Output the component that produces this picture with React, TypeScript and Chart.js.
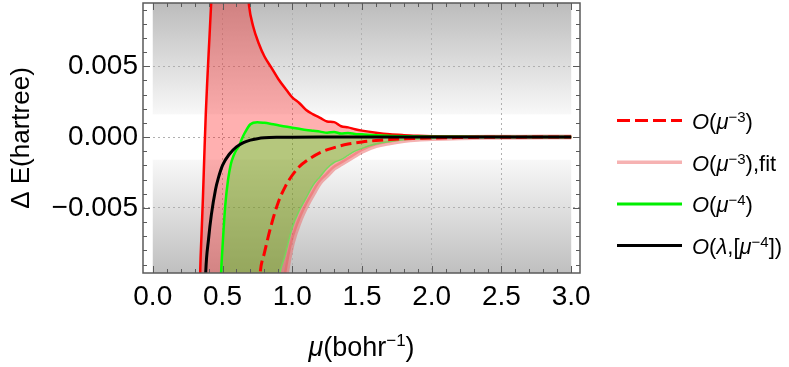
import React, { useEffect, useRef } from "react";
import { Chart, registerables } from "chart.js";

Chart.register(...registerables);

const FONT = '"Liberation Sans", Arial, Helvetica, sans-serif';

// ---- axes ----
const xTicks = [0, 0.5, 1, 1.5, 2, 2.5, 3];
const yTicks = [-0.005, 0, 0.005];
const xLimits = [-0.07, 3.063];
const yLimits = [-0.0096, 0.00946];
const shadeEdge = 0.0016;
const shadeX = [0, 3];

const yTitle = "Δ E(hartree)";
const xTitleSegs: [string, string][] = [["μ", "i"], ["(bohr", "n"], ["−1", "s"], [")", "n"]];
const legendLabels: [string, string][][] = [
  [["O", "i"], ["(", "n"], ["μ", "i"], ["−3", "s"], [")", "n"]],
  [["O", "i"], ["(", "n"], ["μ", "i"], ["−3", "s"], ["),fit", "n"]],
  [["O", "i"], ["(", "n"], ["μ", "i"], ["−4", "s"], [")", "n"]],
  [["O", "i"], ["(", "n"], ["λ", "i"], [",[", "n"], ["μ", "i"], ["−4", "s"], ["])", "n"]],
];

// ---- O(mu^-3) band: upper bound and fit (lower bound) ----
const muRed = [0.33, 0.34, 0.35, 0.36, 0.37, 0.38, 0.39, 0.40, 0.42, 0.44, 0.50, 0.60, 0.66, 0.69, 0.72, 0.76, 0.80, 0.85, 0.90, 0.96, 1.00, 1.05, 1.10, 1.15, 1.20, 1.25, 1.30, 1.35, 1.40, 1.45, 1.50, 1.60, 1.70, 1.80, 1.90, 2.00, 2.20, 2.40, 2.60, 2.80, 3.00];
const redUpper = [-0.016, -0.0096, -0.0068, -0.0042, -0.0012, 0.0016, 0.0038, 0.0058, 0.0097, 0.0145, 0.03, 0.03, 0.013, 0.0093, 0.0078, 0.0066, 0.0057, 0.0049, 0.0041, 0.0033, 0.0028, 0.0024, 0.0019, 0.0016, 0.00135, 0.0011, 0.00105, 0.00076, 0.00068, 0.00055, 0.00045, 0.0003, 0.00019, 0.00013, 0.00009, 0.00006, 0.00003, 0.000015, 0.000008, 0.000004, 0.000002];
const pinkFit = [-0.04, -0.04, -0.04, -0.04, -0.04, -0.04, -0.04, -0.04, -0.04, -0.04, -0.04, -0.04, -0.04, -0.04, -0.04, -0.04, -0.04, -0.02, -0.0135, -0.0095, -0.0075, -0.006, -0.0049, -0.004, -0.0032, -0.0027, -0.0022, -0.0019, -0.0016, -0.0013, -0.001, -0.0006, -0.0004, -0.00025, -0.00016, -0.00011, -0.00005, -0.00002, -0.00001, -0.000004, -0.000002];

// ---- O(mu^-4) band ----
const muGreen = [0.47, 0.49, 0.50, 0.52, 0.54, 0.56, 0.58, 0.60, 0.62, 0.64, 0.66, 0.70, 0.75, 0.80, 0.85, 0.90, 0.95, 1.00, 1.05, 1.10, 1.15, 1.20, 1.25, 1.30, 1.35, 1.40, 1.45, 1.50, 1.60, 1.70, 1.80, 1.90, 2.00, 2.20, 2.40, 2.60, 2.80, 3.00];
const greenUpper = [-0.016, -0.0096, -0.0078, -0.0048, -0.003, -0.0019, -0.0013, -0.0009, -0.0006, -0.0001, 0.0003, 0.0009, 0.00105, 0.001, 0.00092, 0.00083, 0.00074, 0.00066, 0.00058, 0.0005, 0.00044, 0.00038, 0.0003, 0.00036, 0.00024, 0.00028, 0.00022, 0.00019, 0.00012, 0.00008, 0.00005, 0.00003, 0.00002, 0.00001, 0.000005, 0.000002, 0.000001, 0];
const greenLower = [-0.04, -0.04, -0.04, -0.04, -0.04, -0.04, -0.04, -0.04, -0.04, -0.04, -0.04, -0.04, -0.04, -0.04, -0.017, -0.0104, -0.0083, -0.0064, -0.0052, -0.0043, -0.0034, -0.0028, -0.0022, -0.0018, -0.0016, -0.0013, -0.001, -0.0008, -0.0005, -0.00032, -0.0002, -0.00014, -0.0001, -0.00004, -0.00002, -0.00001, -0.000004, -0.000002];

// ---- O(mu^-3) (dashed) ----
const muDashed = [0.74, 0.77, 0.80, 0.85, 0.90, 0.95, 1.00, 1.05, 1.10, 1.20, 1.30, 1.40, 1.50, 1.60, 1.70, 1.80, 1.90, 2.00, 2.20, 2.40, 2.60, 2.80, 3.00];
const dashedVals = [-0.014, -0.0096, -0.0082, -0.0062, -0.0046, -0.0035, -0.0027, -0.0021, -0.0017, -0.0011, -0.00075, -0.0005, -0.00035, -0.00025, -0.00018, -0.00013, -0.0001, -0.00007, -0.00004, -0.00002, -0.00001, -0.000004, 0];

// ---- O(lambda,[mu^-4]) ----
const muBlack = [0.36, 0.38, 0.40, 0.42, 0.45, 0.47, 0.50, 0.55, 0.60, 0.65, 0.70, 0.75, 0.80, 0.90, 1.00, 1.20, 1.50, 2.00, 2.50, 3.00];
const blackVals = [-0.016, -0.0095, -0.0072, -0.0055, -0.0037, -0.0029, -0.002, -0.0012, -0.0007, -0.0004, -0.00022, -0.00012, -0.00006, -0.00002, -0.00001, 0, 0, 0, 0, 0];

const pts = (xs: number[], ys: number[]) => xs.map((x, i) => ({ x, y: ys[i] }));

function drawRich(ctx: CanvasRenderingContext2D, segs: [string, string][], x: number, baseline: number, size: number, supSize: number, supRaise: number, align: "left" | "center") {
  const fontFor = (s: string) =>
    s === "i" ? `italic ${size}px ${FONT}` : s === "s" ? `${supSize}px ${FONT}` : `${size}px ${FONT}`;
  let total = 0;
  for (const [t, s] of segs) {
    ctx.font = fontFor(s);
    total += ctx.measureText(t).width;
  }
  let cx = align === "center" ? x - total / 2 : x;
  ctx.textAlign = "left";
  ctx.textBaseline = "alphabetic";
  for (const [t, s] of segs) {
    ctx.font = fontFor(s);
    ctx.fillText(t, cx, s === "s" ? baseline - supRaise : baseline);
    cx += ctx.measureText(t).width;
  }
}

const decorPlugin = {
  id: "decor",
  beforeDraw(chart: any) {
    const { ctx, chartArea } = chart;
    const xs = chart.scales.x;
    const ys = chart.scales.y;
    const l = xs.getPixelForValue(shadeX[0]);
    const r = xs.getPixelForValue(shadeX[1]);
    const top = chartArea.top;
    const bottom = chartArea.bottom;
    const y1 = ys.getPixelForValue(shadeEdge);
    const y2 = ys.getPixelForValue(-shadeEdge);
    ctx.save();
    let g = ctx.createLinearGradient(0, top, 0, y1);
    g.addColorStop(0, "#bcbcbc");
    g.addColorStop(1, "#f8f8f8");
    ctx.fillStyle = g;
    ctx.fillRect(l, top, r - l, y1 - top);
    g = ctx.createLinearGradient(0, y2, 0, bottom);
    g.addColorStop(0, "#f8f8f8");
    g.addColorStop(1, "#bfbfbf");
    ctx.fillStyle = g;
    ctx.fillRect(l, y2, r - l, bottom - y2);
    ctx.restore();
  },
  afterDraw(chart: any) {
    const { ctx, chartArea } = chart;
    const xs = chart.scales.x;
    const ys = chart.scales.y;
    const { left, right, top, bottom } = chartArea;
    ctx.save();
    // inward ticks
    ctx.strokeStyle = "#5a5a5a";
    ctx.lineWidth = 1;
    ctx.beginPath();
    for (let i = 0; i <= 30; i++) {
      const px = Math.round(xs.getPixelForValue(i / 10)) + 0.5;
      const len = i % 5 === 0 ? 7 : 4;
      ctx.moveTo(px, bottom);
      ctx.lineTo(px, bottom - len);
      ctx.moveTo(px, top);
      ctx.lineTo(px, top + len);
    }
    for (let i = -9; i <= 9; i++) {
      const py = Math.round(ys.getPixelForValue(i / 1000)) + 0.5;
      const len = i % 5 === 0 ? 7 : 4;
      ctx.moveTo(left, py);
      ctx.lineTo(left + len, py);
      ctx.moveTo(right, py);
      ctx.lineTo(right - len, py);
    }
    ctx.stroke();
    // frame
    ctx.lineWidth = 1.5;
    ctx.strokeRect(left, top, right - left, bottom - top);

    // x title
    ctx.fillStyle = "#000";
    drawRich(ctx, xTitleSegs, (left + right) / 2, 356, 27, 17, 10, "center");

    // legend
    const lx0 = right + 37;
    const lx1 = right + 102;
    const styles = [
      { color: "#ff0000", width: 3, dash: [13, 5] },
      { color: "#f6b2b2", width: 3.5, dash: [] },
      { color: "#00ee00", width: 3, dash: [] },
      { color: "#000000", width: 3, dash: [] },
    ];
    legendLabels.forEach((segs, i) => {
      const ly = 120.5 + i * 41.7;
      const st = styles[i];
      ctx.beginPath();
      ctx.strokeStyle = st.color;
      ctx.lineWidth = st.width;
      ctx.setLineDash(st.dash);
      ctx.moveTo(lx0, ly);
      ctx.lineTo(lx1, ly);
      ctx.stroke();
      ctx.setLineDash([]);
      ctx.fillStyle = "#000";
      drawRich(ctx, segs, right + 112, ly + 8.5, 22, 15, 7, "left");
    });
    ctx.restore();
  },
};

export default function App() {
  const ref = useRef<HTMLCanvasElement | null>(null);
  useEffect(() => {
    if (!ref.current) return;
    const chart = new Chart(ref.current, {
      type: "line",
      data: {
        datasets: [
          { label: "O(λ,[μ−4])", data: pts(muBlack, blackVals), borderColor: "#000000", borderWidth: 3, fill: false },
          { label: "O(μ−3)", data: pts(muDashed, dashedVals), borderColor: "#ff0000", borderWidth: 3, borderDash: [11, 5], fill: false },
          { label: "O(μ−4)", data: pts(muGreen, greenUpper), borderColor: "#00ff00", borderWidth: 2.5, fill: "+1", backgroundColor: "rgba(0,255,0,0.29)" },
          { label: "O(μ−4) lower", data: pts(muGreen, greenLower), borderColor: "rgba(110,220,90,0.9)", borderWidth: 1.5, fill: false },
          { label: "O(μ−3) upper", data: pts(muRed, redUpper), borderColor: "#ff0000", borderWidth: 2.5, fill: "+1", backgroundColor: "rgba(255,0,0,0.31)" },
          { label: "O(μ−3),fit", data: pts(muRed, pinkFit), borderColor: "rgba(235,100,100,0.5)", borderWidth: 5, fill: false },
        ],
      },
      options: {
        responsive: false,
        animation: false,
        layout: { padding: { top: 3, right: 209, left: 0, bottom: 0 } },
        elements: { point: { radius: 0 }, line: { cubicInterpolationMode: "monotone" } },
        plugins: {
          legend: { display: false },
          tooltip: { enabled: false },
          filler: { drawTime: "beforeDatasetsDraw", propagate: false },
        } as any,
        scales: {
          x: {
            type: "linear",
            min: xLimits[0],
            max: xLimits[1],
            afterBuildTicks: (s: any) => { s.ticks = xTicks.map((v) => ({ value: v })); },
            afterFit: (s: any) => { s.height = 94; },
            ticks: {
              font: { family: FONT, size: 28 },
              color: "#000",
              padding: 7,
              maxRotation: 0,
              autoSkip: false,
              callback: (v: any) => Number(v).toFixed(1),
            },
            grid: {
              drawTicks: false,
              lineWidth: 1,
              color: (c: any) => (c.tick && (c.tick.value <= 0 || c.tick.value >= 3) ? "rgba(0,0,0,0)" : "#b0b0b0"),
            },
            border: { display: false, dash: [2, 3] },
          },
          y: {
            type: "linear",
            min: yLimits[0],
            max: yLimits[1],
            afterBuildTicks: (s: any) => { s.ticks = yTicks.map((v) => ({ value: v })); },
            afterFit: (s: any) => { s.width = 143; s.paddingTop = 0; s.paddingBottom = 0; },
            ticks: {
              font: { family: FONT, size: 28 },
              color: "#000",
              padding: 5,
              callback: (v: any) => {
                const n = Number(v);
                if (Math.abs(n) < 1e-12) return "0.000";
                return (n < 0 ? "−" : "") + Math.abs(n).toFixed(3);
              },
            },
            grid: { drawTicks: false, lineWidth: 1, color: "#b0b0b0" },
            border: { display: false, dash: [2, 3] },
            title: {
              display: true,
              text: yTitle,
              font: { family: FONT, size: 26 },
              color: "#000",
              padding: { top: 6, bottom: 0 },
            },
          },
        },
      } as any,
      plugins: [decorPlugin],
    });
    return () => chart.destroy();
  }, []);
  return (
    <div style={{ position: "absolute", left: 0, top: 0, width: 789, height: 367, background: "#fff" }}>
      <canvas ref={ref} width={789} height={367} style={{ display: "block" }} />
    </div>
  );
}
